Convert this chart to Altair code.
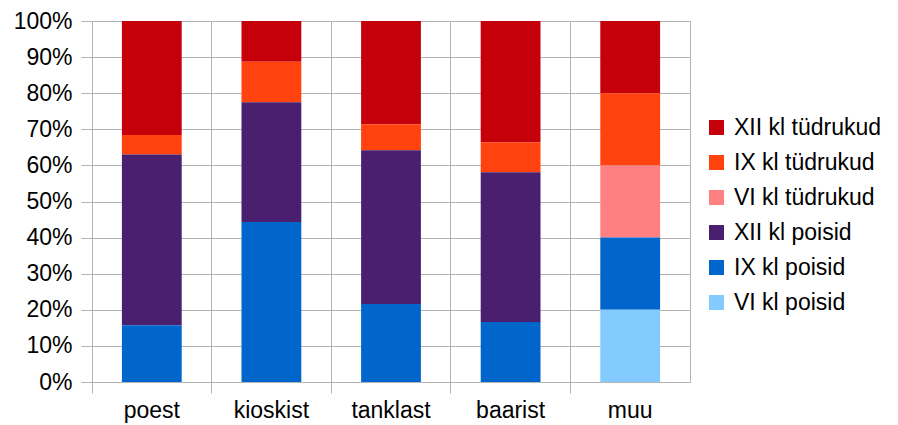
import altair as alt
import pandas as pd

categories = ["poest", "kioskist", "tanklast", "baarist", "muu"]
series = ["XII kl tüdrukud", "IX kl tüdrukud", "VI kl tüdrukud",
          "XII kl poisid", "IX kl poisid", "VI kl poisid"]
colors = ["#c5000b", "#ff420e", "#ff8080", "#4b1f6f", "#0066cc", "#83caff"]

vi_poisid = [0, 0, 0, 0, 20]
ix_poisid = [15.7, 44.3, 21.6, 16.6, 20]
xii_poisid = [47.3, 33.2, 42.6, 41.5, 0]
vi_tudrukud = [0, 0, 0, 0, 20]
ix_tudrukud = [5.4, 11.2, 7.2, 8.3, 20]
xii_tudrukud = [31.6, 11.3, 28.6, 33.6, 20]

values = {
    "XII kl tüdrukud": xii_tudrukud,
    "IX kl tüdrukud": ix_tudrukud,
    "VI kl tüdrukud": vi_tudrukud,
    "XII kl poisid": xii_poisid,
    "IX kl poisid": ix_poisid,
    "VI kl poisid": vi_poisid,
}

rows = []
for si, s in enumerate(series):
    for ci, c in enumerate(categories):
        rows.append({"cat": c, "series": s, "value": values[s][ci],
                     "order": len(series) - 1 - si})
df = pd.DataFrame(rows)

FONT = "Liberation Sans"
GRID = "#b3b3b3"

chart = alt.Chart(df).mark_bar(width=alt.RelativeBandSize(0.5)).encode(
    x=alt.X("cat:N", sort=categories, title=None,
            scale=alt.Scale(paddingInner=0, paddingOuter=0),
            axis=alt.Axis(bandPosition=0, labelOffset=0, labelAngle=0,
                          grid=True, gridColor=GRID, tickColor=GRID,
                          domainColor=GRID, tickSize=11, labelPadding=6,
                          labelFont=FONT, labelFontSize=23, labelColor="#000")),
    y=alt.Y("value:Q", stack="normalize", title=None,
            scale=alt.Scale(domain=[0, 1]),
            axis=alt.Axis(format=".0%", values=[i / 10 for i in range(11)],
                          grid=True, gridColor=GRID, tickColor=GRID,
                          domainColor=GRID, tickSize=11, labelPadding=9,
                          labelFont=FONT, labelFontSize=23, labelColor="#000")),
    color=alt.Color("series:N", scale=alt.Scale(domain=series, range=colors),
                    legend=alt.Legend(title=None, orient="none",
                                      legendX=613, legendY=95,
                                      symbolType="square", symbolSize=225,
                                      symbolStrokeWidth=0,
                                      labelFont=FONT, labelFontSize=23,
                                      labelColor="#000", rowPadding=11,
                                      labelOffset=6)),
    order=alt.Order("order:Q"),
).properties(
    width=598, height=361,
    padding={"left": 5, "top": 2, "right": 5, "bottom": 5},
).configure_view(stroke=GRID, strokeWidth=1)

chart.save("out.html", embed_options={"renderer": "svg", "actions": False})
